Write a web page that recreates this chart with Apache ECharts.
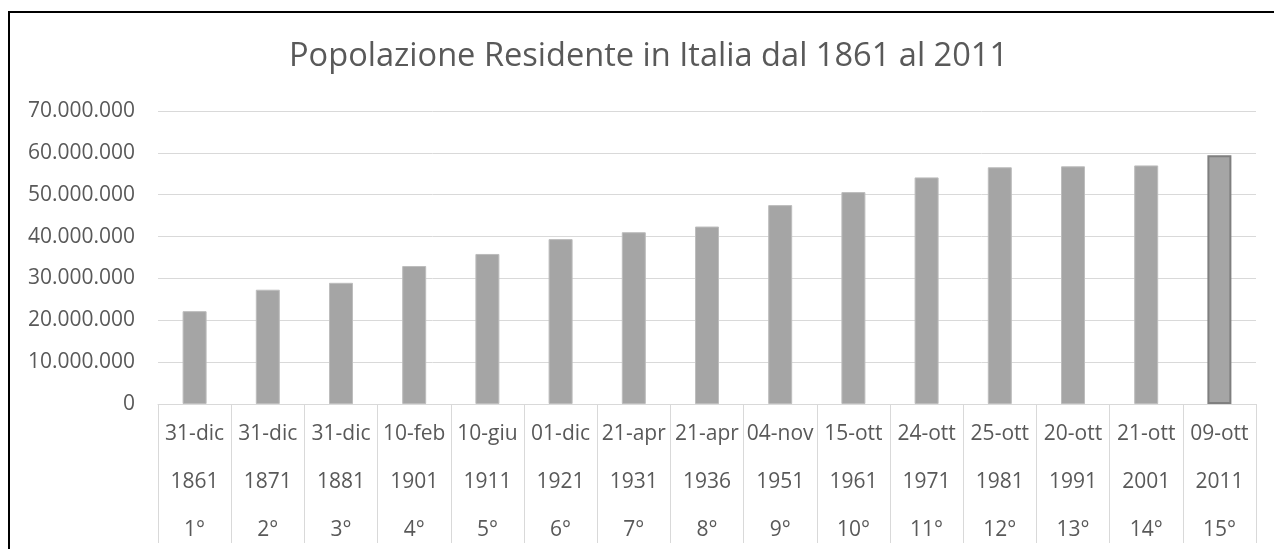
<!DOCTYPE html>
<html>
<head>
<meta charset="utf-8">
<script src="https://cdn.jsdelivr.net/npm/echarts@6/dist/echarts.min.js"></script>
<style>
  html, body { margin: 0; padding: 0; background: #fff; }
  #chart { width: 1274px; height: 549px; }
</style>
</head>
<body>
<div id="chart"></div>
<script>
// dati del censimento
var dates = ["31-dic", "31-dic", "31-dic", "10-feb", "10-giu", "01-dic", "21-apr", "21-apr",
  "04-nov", "15-ott", "24-ott", "25-ott", "20-ott", "21-ott", "09-ott"];
var years = ["1861", "1871", "1881", "1901", "1911", "1921", "1931", "1936",
  "1951", "1961", "1971", "1981", "1991", "2001", "2011"];
var ordinals = ["1°", "2°", "3°", "4°", "5°", "6°", "7°", "8°",
  "9°", "10°", "11°", "12°", "13°", "14°", "15°"];
var population = [22182377, 27303509, 28953480, 32965504, 35845048, 39396757, 41043489, 42398489,
  47515537, 50623569, 54136547, 56556911, 56778031, 56995744, 59433744];
var yTicks = { min: 0, max: 70000000, interval: 10000000 };

var myChart = null;
window.onload = function () {
  myChart = echarts.init(document.getElementById("chart"));
  drawBar();
};

function fmt(v) {
  return String(v).replace(/\B(?=(\d{3})+(?!\d))/g, ".");
}

function drawBar() {
  var categories = dates.map(function (d, i) {
    return d + "\n" + years[i] + "\n" + ordinals[i];
  });
  var barData = population.map(function (v, i) {
    if (i === population.length - 1) {
      // ultimo censimento evidenziato con bordo scuro
      return { value: v, itemStyle: { borderColor: "#7f7f7f", borderWidth: 2 } };
    }
    return v;
  });

  myChart.setOption({
    animation: false,
    textStyle: { fontFamily: "Open Sans" },
    title: {
      text: "Popolazione Residente in Italia dal 1861 al 2011",
      left: 284,
      top: 35,
      textStyle: {
        color: "#595959",
        fontSize: 32.6,
        fontWeight: "normal",
        fontFamily: "Open Sans",
      },
    },
    graphic: [
      {
        type: "rect",
        shape: { x: 9, y: 12, width: 1400, height: 700 },
        style: { fill: null, stroke: "#000", lineWidth: 2 },
        silent: true,
      },
    ],
    grid: {
      left: 158,
      right: 18,
      top: 111,
      bottom: 145,
      outerBoundsMode: "none",
    },
    xAxis: {
      type: "category",
      data: categories,
      axisLine: { lineStyle: { color: "#d9d9d9", width: 1 } },
      axisTick: {
        show: true,
        interval: 0,
        length: 139,
        lineStyle: { color: "#d9d9d9" },
      },
      axisLabel: {
        interval: 0,
        margin: 6,
        color: "#595959",
        fontSize: 21,
        lineHeight: 48,
        fontFamily: "Open Sans",
      },
    },
    yAxis: {
      type: "value",
      min: yTicks.min,
      max: yTicks.max,
      interval: yTicks.interval,
      axisLine: { show: false },
      axisTick: { show: false },
      axisLabel: {
        margin: 23,
        color: "#595959",
        fontSize: 21,
        fontFamily: "Open Sans",
        formatter: fmt,
      },
      splitLine: { lineStyle: { color: "#d9d9d9", width: 1 } },
    },
    series: [
      {
        type: "bar",
        barWidth: 24,
        data: barData,
        itemStyle: {
          color: "#a5a5a5",
          borderColor: "#bdbdbd",
          borderWidth: 1,
        },
      },
    ],
  });
}
</script>
</body>
</html>
